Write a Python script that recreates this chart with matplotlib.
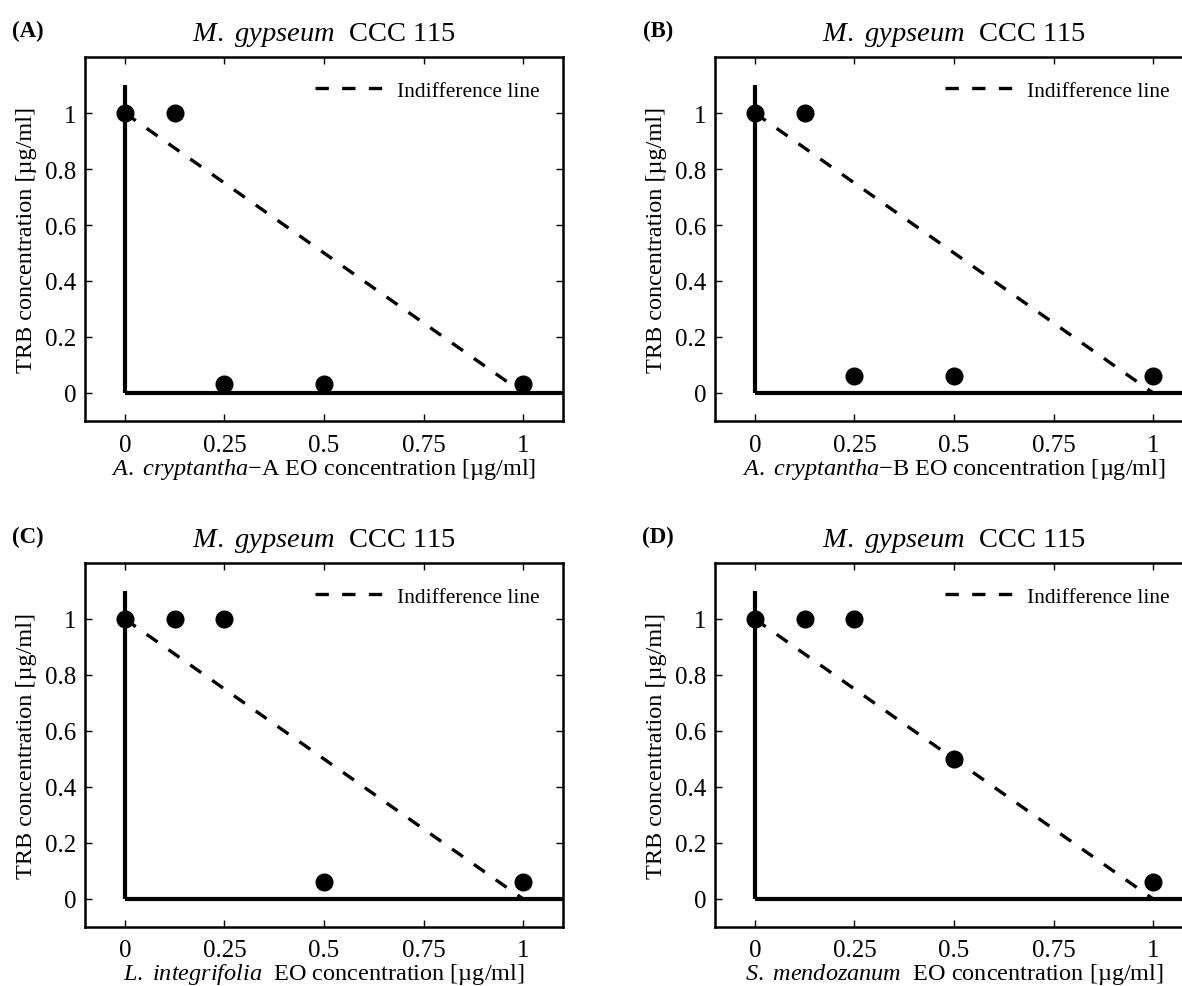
import matplotlib
matplotlib.use("Agg")
import matplotlib.pyplot as plt

plt.rcParams['font.family'] = ['Liberation Serif', 'DejaVu Serif']
plt.rcParams['mathtext.fontset'] = 'custom'
plt.rcParams['mathtext.rm'] = 'Liberation Serif'
plt.rcParams['mathtext.it'] = 'Liberation Serif:italic'

# isobologram data: EO concentration (x) vs TRB concentration (y)
panel_labels = ['(A)', '(B)', '(C)', '(D)']
eo_names = [r'$\mathit{A.\ cryptantha}$' + '\u2212A EO concentration [\u00b5g/ml]',
            r'$\mathit{A.\ cryptantha}$' + '\u2212B EO concentration [\u00b5g/ml]',
            r'$\mathit{L.\ integrifolia}$' + '  EO concentration [\u00b5g/ml]',
            r'$\mathit{S.\ mendozanum}$' + '  EO concentration [\u00b5g/ml]']
title = r'$\mathit{M.\ gypseum}$' + '  CCC 115'

eo_conc = [0, 0.125, 0.25, 0.5, 1]
trb_A = [1, 1, 0.03125, 0.03125, 0.03125]
trb_B = [1, 1, 0.0625, 0.0625, 0.0625]
trb_C = [1, 1, 1, 0.0625, 0.0625]
trb_D = [1, 1, 1, 0.5, 0.0625]
trb_all = [trb_A, trb_B, trb_C, trb_D]

indiff_x = [0, 1]
indiff_y = [1, 0]

xticks = [0, 0.25, 0.5, 0.75, 1]
xticklabels = ['0', '0.25', '0.5', '0.75', '1']
yticks = [0, 0.2, 0.4, 0.6, 0.8, 1]
yticklabels = ['0', '0.2', '0.4', '0.6', '0.8', '1']

fig = plt.figure(figsize=(11.82, 9.87), dpi=100)

W, H = 1182, 987
# axes boxes in pixels: left, top, width, height
boxes = [(85, 58, 478, 364), (715, 58, 478, 364),
         (85, 564, 478, 364), (715, 564, 478, 364)]

for i, (l, t, w, h) in enumerate(boxes):
    ax = fig.add_axes([l / W, 1 - (t + h) / H, w / W, h / H])
    ax.set_xlim(-0.1, 1.1)
    ax.set_ylim(-0.1, 1.2)

    # axes of the isobologram
    ax.plot([0, 0], [0, 1.1], color='black', lw=3, solid_capstyle='butt')
    ax.plot([0, 1.1], [0, 0], color='black', lw=3, solid_capstyle='butt')

    ax.plot(indiff_x, indiff_y, color='black', lw=2.4, dashes=(4, 4),
            label='Indifference line')
    ax.plot(eo_conc, trb_all[i], 'o', color='black', ms=12, clip_on=False)

    ax.set_xticks(xticks)
    ax.set_xticklabels(xticklabels)
    ax.set_yticks(yticks)
    ax.set_yticklabels(yticklabels)
    ax.tick_params(direction='in', length=5, width=1, top=True, right=True,
                   labelsize=18)
    ax.tick_params(axis='x', pad=9)
    ax.tick_params(axis='y', pad=6)
    for s in ax.spines.values():
        s.set_linewidth(1.8)

    ax.set_xlabel(eo_names[i], fontsize=17.5, labelpad=0)
    ax.set_ylabel('TRB concentration [\u00b5g/ml]', fontsize=17.5, labelpad=6)

    ax.set_title(title, fontsize=20.5, pad=12)
    ax.text(-0.12, 1.045, panel_labels[i], transform=ax.transAxes,
            fontsize=16.5, fontweight='bold', ha='center', va='bottom')

    leg = ax.legend(loc='upper right', frameon=False, fontsize=15.5,
                    handlelength=3.4, handletextpad=0.4,
                    borderaxespad=0.7)

fig.savefig('out.png', dpi=100)
